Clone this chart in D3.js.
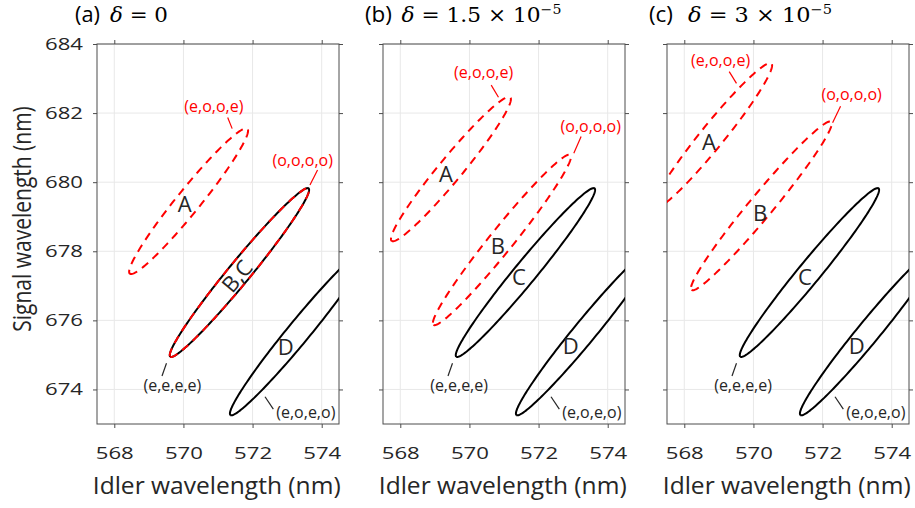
<!DOCTYPE html>
<html>
<head>
<meta charset="utf-8">
<script src="https://cdn.jsdelivr.net/npm/d3@7"></script>
<style>
body { margin: 0; background: #fff; }
text { font-family: "Open Sans", sans-serif; }
</style>
</head>
<body>
<div id="svg-container"></div>
<script>
// axis values
var xDomain = [567.5, 574.5];
var yDomain = [673, 684];
var xTicks = [568, 570, 572, 574];
var yTicks = [674, 676, 678, 680, 682, 684];

var panelTags = ['(a)', '(b)', '(c)'];
var deltaMain = ['0', '1.5 \u00d7 10', '3 \u00d7 10'];
var deltaExp = ['', '\u22125', '\u22125'];

// ellipse tips in nm: [x1, y1, x2, y2] and half widths
var ellipseC = [569.62, 674.95, 573.62, 679.82];
var ellipseD = [571.36, 673.26, 575.36, 678.13];
var ellipseA = [
	[568.45, 677.35, 571.85, 681.55],
	[567.75, 678.30, 571.18, 682.46],
	[567.12, 679.24, 570.52, 683.44]
];
var ellipseB = [
	[569.62, 674.95, 573.62, 679.82],
	[568.96, 675.87, 572.92, 680.79],
	[568.21, 676.88, 572.25, 681.75]
];
var halfWidthCD = 0.32;
var halfWidthAB = 0.34;

// mode labels: text, x, y (baseline), leader x1,y1,x2,y2
var modeLabels = [
	[
		['(e,o,o,e)', 570.88, 682.03, 571.28, 681.87, 571.41, 681.55, 'red'],
		['(o,o,o,o)', 573.45, 680.47, 573.88, 680.35, 573.66, 679.92, 'red'],
		['(e,e,e,e)', 569.68, 673.96, 569.51, 674.76, 569.38, 674.39, 'black'],
		['(e,o,e,o)', 573.54, 673.17, 572.36, 673.79, 572.60, 673.43, 'black']
	],
	[
		['(e,o,o,e)', 570.41, 683.01, 570.63, 682.81, 570.84, 682.46, 'red'],
		['(o,o,o,o)', 573.51, 681.44, 573.23, 681.32, 573.02, 680.84, 'red'],
		['(e,e,e,e)', 569.70, 673.96, 569.51, 674.76, 569.38, 674.39, 'black'],
		['(e,o,e,o)', 573.54, 673.17, 572.36, 673.79, 572.60, 673.43, 'black']
	],
	[
		['(e,o,o,e)', 569.05, 683.36, 569.30, 683.20, 569.51, 682.86, 'red'],
		['(o,o,o,o)', 572.84, 682.38, 572.52, 682.20, 572.29, 681.72, 'red'],
		['(e,e,e,e)', 569.70, 673.96, 569.51, 674.76, 569.38, 674.39, 'black'],
		['(e,o,e,o)', 573.54, 673.17, 572.36, 673.79, 572.60, 673.43, 'black']
	]
];

// letters: text, x, y (centre), rotation
var letterLabels = [
	[['A', 570.04, 679.37, 0], ['B,C', 571.55, 677.28, -50], ['D', 572.96, 675.23, 0]],
	[['A', 569.32, 680.24, 0], ['B', 570.82, 678.15, 0], ['C', 571.43, 677.25, 0], ['D', 572.93, 675.26, 0]],
	[['A', 568.71, 681.16, 0], ['B', 570.19, 679.11, 0], ['C', 571.49, 677.25, 0], ['D', 572.99, 675.26, 0]]
];

var W = 915, H = 508;
var panelLeft = [97, 383, 667];
var panelTop = 44, panelW = 242, panelH = 380;
var tagX = [75, 365, 649];
var tagW = [25, 27, 24];
var mathX = [110, 401.5, 688];
var mathW = [58, 160, 144];

var svg = d3.select('#svg-container').append('svg')
	.attr('width', W)
	.attr('height', H);

// horizontal stretch so a text spans the given width (the original is drawn wide)
function stretchTo(sel, width) {
	var len = sel.node().getComputedTextLength();
	return width / len;
}

function ellipsePoints(tips, hw) {
	var cx = (tips[0] + tips[2]) / 2, cy = (tips[1] + tips[3]) / 2;
	var dx = tips[2] - tips[0], dy = tips[3] - tips[1];
	var len = Math.sqrt(dx * dx + dy * dy);
	var ux = dx / len, uy = dy / len;
	var a = len / 2;
	return d3.range(0, 361, 2).map(function(deg) {
		var t = (deg + 180) * Math.PI / 180;
		return [cx + a * Math.cos(t) * ux - hw * Math.sin(t) * uy,
			cy + a * Math.cos(t) * uy + hw * Math.sin(t) * ux];
	});
}

panelLeft.forEach(function(left, i) {
	var x = d3.scaleLinear().domain(xDomain).range([0, panelW]);
	var y = d3.scaleLinear().domain(yDomain).range([panelH, 0]);
	var g = svg.append('g').attr('transform', 'translate(' + left + ',' + panelTop + ')');

	g.append('defs').append('clipPath').attr('id', 'clip' + i)
		.append('rect').attr('width', panelW).attr('height', panelH);

	// grid
	g.selectAll('.gx').data(xTicks).enter().append('line')
		.attr('x1', function(d) { return x(d); }).attr('x2', function(d) { return x(d); })
		.attr('y1', 0).attr('y2', panelH)
		.attr('stroke', '#e8e8e8').attr('stroke-width', 1);
	g.selectAll('.gy').data(yTicks).enter().append('line')
		.attr('y1', function(d) { return y(d); }).attr('y2', function(d) { return y(d); })
		.attr('x1', 0).attr('x2', panelW)
		.attr('stroke', '#e8e8e8').attr('stroke-width', 1);

	// axes, ticks outward on all sides
	var bottom = g.append('g').attr('transform', 'translate(0,' + panelH + ')')
		.call(d3.axisBottom(x).tickValues(xTicks).tickSizeInner(4).tickSizeOuter(0)
			.tickPadding(19).tickFormat(d3.format('d')));
	var top = g.append('g')
		.call(d3.axisTop(x).tickValues(xTicks).tickSizeInner(4).tickSizeOuter(0).tickFormat(''));
	var leftAx = g.append('g')
		.call(d3.axisLeft(y).tickValues(yTicks).tickSizeInner(4).tickSizeOuter(0).tickPadding(10)
			.tickFormat(i === 0 ? d3.format('d') : ''));
	var right = g.append('g').attr('transform', 'translate(' + panelW + ',0)')
		.call(d3.axisRight(y).tickValues(yTicks).tickSizeInner(4).tickSizeOuter(0).tickFormat(''));
	[bottom, top, leftAx, right].forEach(function(ax) {
		ax.select('.domain').remove();
		ax.selectAll('line').attr('stroke', '#4d4d4d');
		ax.selectAll('text').attr('fill', '#262626').style('font-size', '17px')
			.style('font-family', '"Open Sans", sans-serif');
	});
	bottom.selectAll('text').each(function() {
		var s = d3.select(this);
		if (s.text()) s.attr('transform', 'scale(' + stretchTo(s, 38) + ',1)');
	});
	leftAx.selectAll('text').each(function() {
		var s = d3.select(this);
		if (!s.text()) return;
		var k = stretchTo(s, 38);
		s.attr('transform', 'scale(' + k + ',1)').attr('x', -14 / k);
	});
	g.append('rect').attr('width', panelW).attr('height', panelH)
		.attr('fill', 'none').attr('stroke', '#4d4d4d').attr('stroke-width', 1);

	var line = d3.line().x(function(d) { return x(d[0]); }).y(function(d) { return y(d[1]); });
	var plot = g.append('g').attr('clip-path', 'url(#clip' + i + ')');

	// solid black C and D
	[ellipseC, ellipseD].forEach(function(e) {
		plot.append('path').datum(ellipsePoints(e, halfWidthCD))
			.attr('d', line).attr('fill', 'none')
			.attr('stroke', '#000').attr('stroke-width', 2);
	});
	// dashed red A and B
	plot.append('path').datum(ellipsePoints(ellipseA[i], halfWidthAB))
		.attr('d', line).attr('fill', 'none')
		.attr('stroke', '#ff0000').attr('stroke-width', 2).attr('stroke-dasharray', '8,6');
	plot.append('path').datum(ellipsePoints(ellipseB[i], i === 0 ? halfWidthCD : halfWidthAB))
		.attr('d', line).attr('fill', 'none')
		.attr('stroke', '#ff0000').attr('stroke-width', 2).attr('stroke-dasharray', '8,6');

	// mode labels with leader lines
	modeLabels[i].forEach(function(m) {
		var col = m[7] === 'red' ? '#ff0000' : '#262626';
		g.append('line')
			.attr('x1', x(m[3])).attr('y1', y(m[4]))
			.attr('x2', x(m[5])).attr('y2', y(m[6]))
			.attr('stroke', col).attr('stroke-width', 1.2);
		g.append('text').text(m[0])
			.attr('x', x(m[1])).attr('y', y(m[2]))
			.attr('text-anchor', 'middle')
			.attr('fill', col)
			.style('font-size', '16px');
	});

	letterLabels[i].forEach(function(l) {
		g.append('text').text(l[0])
			.attr('transform', 'translate(' + x(l[1]) + ',' + y(l[2]) + ') rotate(' + l[3] + ')')
			.attr('text-anchor', 'middle')
			.attr('dy', '0.36em')
			.attr('fill', '#262626')
			.style('font-size', '22px');
	});

	// x label
	var xl = g.append('text').text('Idler wavelength (nm)')
		.attr('text-anchor', 'middle').attr('fill', '#262626')
		.style('font-size', '23px');
	xl.attr('transform', 'translate(' + (panelW / 2 - 1.3) + ',' + (panelH + 70) + ') scale(' + stretchTo(xl, 248) + ',1)');

	// title
	var tag = svg.append('text').text(panelTags[i])
		.attr('fill', '#000').style('font-size', '21px');
	tag.attr('transform', 'translate(' + tagX[i] + ',21.5) scale(' + stretchTo(tag, tagW[i]) + ',1)');
	var t = svg.append('text').attr('fill', '#000')
		.style('font-family', '"DejaVu Serif", serif').style('font-size', '20px');
	t.append('tspan').text('\u03b4').style('font-style', 'italic');
	t.append('tspan').text(' = ' + deltaMain[i]);
	if (deltaExp[i]) {
		t.append('tspan').text(deltaExp[i]).attr('dy', -8).style('font-size', '13px');
	}
	t.attr('transform', 'translate(' + mathX[i] + ',21.5) scale(' + stretchTo(t, mathW[i]) + ',1)');
});

// y label
svg.append('text').text('Signal wavelength (nm)')
	.attr('transform', 'translate(31,219) rotate(-90) scale(1,1.2)')
	.attr('text-anchor', 'middle').attr('fill', '#262626')
	.style('font-size', '21px');
</script>
</body>
</html>
